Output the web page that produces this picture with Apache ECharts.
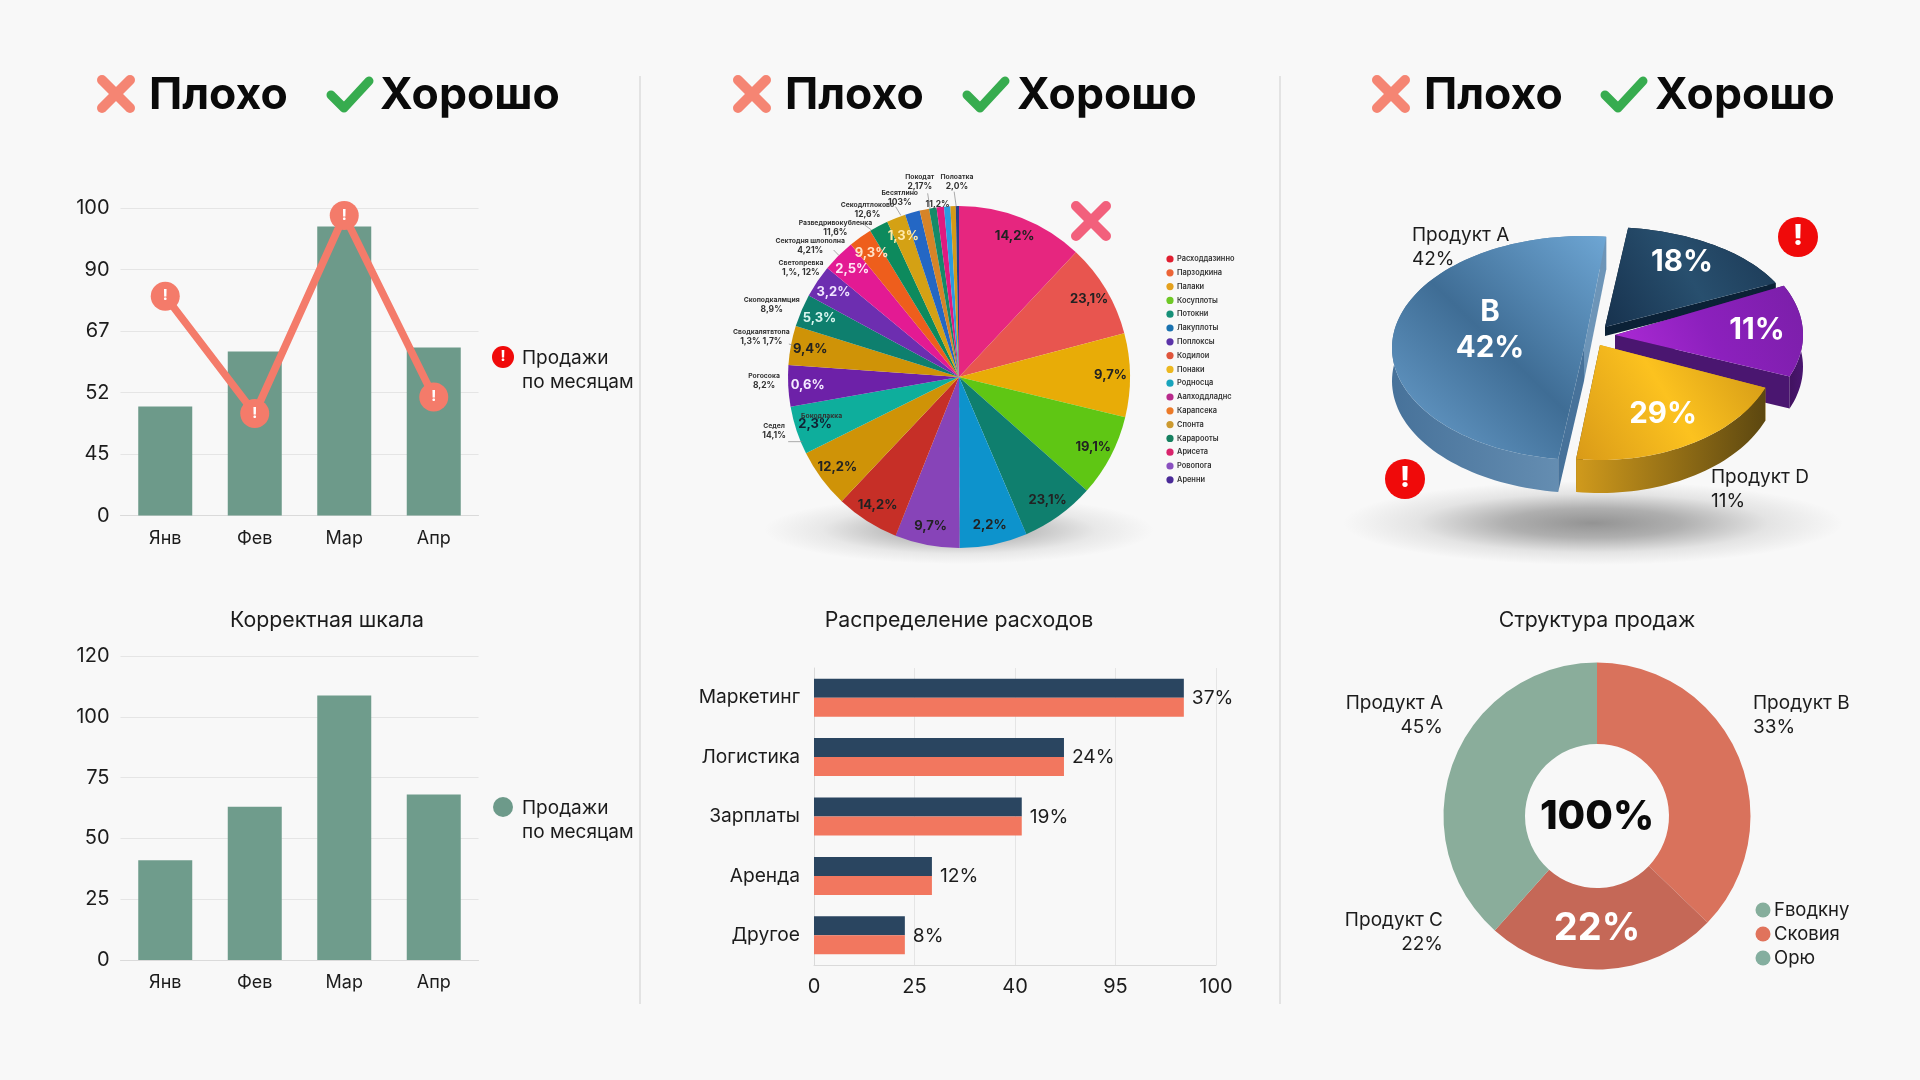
<!DOCTYPE html>
<html><head><meta charset="utf-8">
<script src="https://cdn.jsdelivr.net/npm/echarts@6/dist/echarts.min.js"></script>
<style>html,body{margin:0;padding:0;background:#f8f8f8}#c{width:1920px;height:1080px}</style>
</head><body><div id="c"></div>
<script>
const months = ['Янв','Фев','Мар','Апр'];
const badTicks = [0,45,52,67,90,100];
const badBars = [50.4,62,97,63];
const badLine = [80,49.6,98.8,51.5];
const goodTicks = [0,25,50,75,100,120];
const goodBars = [41,63,107,68];
const costCats = ['Маркетинг','Логистика','Зарплаты','Аренда','Другое'];
const costTicks = [0,25,40,95,100];
const costNavy = [98.4,66.8,43.7,27.6,22.6];
const costCoral = [98.4,66.8,43.7,27.6,22.6];
const costPct = ['37%','24%','19%','12%','8%'];
const bigShares = [12.0,8.9,7.9,7.8,7.0,6.4,6.1,6.0,5.6,4.6,3.9,3.7,3.1,3.1,3.1,2.2,1.8,1.8,1.4,0.9,0.7,0.7,0.6,0.5,0.3];
const bigLabels = ['14,2%','23,1%','9,7%','19,1%','23,1%','2,2%','9,7%','14,2%','12,2%','2,3%','0,6%','9,4%','5,3%','3,2%','2,5%','9,3%','1,1%','1,3%','','','','','','',''];
const bigColors = ['#e6267f','#e8554f','#e8ac07','#5fc614','#0f7f6e','#0d93cc','#8744b8','#c62f27','#cf9307','#0eae9c','#6d21a8','#cf9307','#0e7f6e','#6d2eb0','#e31a93','#ee5e1c','#0d8a5d','#d4a114','#2467c4','#d68428','#158a68','#e01a80','#2b9be0','#d69a18','#28408a'];
const bigLabelColors = ['#222','#222','#222','#222','#222','#222','#222','#222','#222','#123','#f4eaff','#222','#d8f5ef','#f0e4ff','#ffe6f4','#ffe2c8','#c8f5e0','#ffe9a8'];
const bigOuter = ['Покодат\n2,17%','Полоатка\n2,0%','Бесятлино\n103%','\n11,2%','Секодлтлоково\n12,6%','Разведривокубленка\n11,6%','Сектодня шлополна\n4,21%','Светопревка\n1,%, 12%','Скоподкалмция\n8,9%','Сводкалятвтопа\n1,3% 1,7%','Рогосока\n8,2%','Седел\n14,1%','Бокодлакка\n'];
const bigLegend = ['Расходдазинно','Парзодкина','Палаки','Косуплоты','Потокни','Лакуплоты','Поплоксы','Кодилои','Понаки','Родносца','Аалходдладнс','Карапсека','Спонта','Карарооты','Арисета','Ровопога','Аренни'];
const bigLegendColors = ['#e01f30','#ec6436','#e4a11e','#6fc826','#169078','#1a72b0','#5b33a8','#e0553c','#ecb820','#18a4bc','#b82a8c','#ec7a28','#cc9a30','#168060','#d9246c','#8a50c0','#4a2a98'];
const solidShares = [15.8,13.3,21.1,49.7];
const solidLabels = ['18%','11%','29%','B\n42%'];
const donutShares = [37.2,24.4,38.4];
const donutNames = ['Продукт B','Продукт C','Продукт A'];
const donutLegend = ['Fводкну','Сковия','Орю'];

const FONT = 'Inter, Roboto, sans-serif';
const INK = '#1c1c1c';
const GRID = '#e5e5e5';
const SAGE = '#6d9a8a';
const CORAL = '#f47b6a';
const NAVY = '#2a4560';

// ticks are evenly spaced on the axis whatever their printed value
function onTicks(ticks, v) {
  for (let i = 0; i < ticks.length - 1; i++) {
    if (v <= ticks[i + 1]) return i + (v - ticks[i]) / (ticks[i + 1] - ticks[i]);
  }
  return ticks.length - 1;
}

const el = [];
function txt(x, y, text, size, o) {
  o = o || {};
  el.push({type:'text', z:o.z || 20, silent:true, style:{x, y, text, fontFamily:FONT, fontSize:size, fontWeight:o.w || 400, fill:o.c || INK, align:o.a || 'left', verticalAlign:'middle', lineHeight:o.lh || Math.round(size * 1.25)}});
}
function badge(x, y, r, fill, fs) {
  el.push({type:'circle', z:20, silent:true, shape:{cx:x, cy:y, r}, style:{fill}});
  if (fs) txt(x, y, '!', fs, {a:'center', w:800, c:'#fff', z:21});
}
function cross(cx, cy, s, w, color) {
  [[-s,-s,s,s],[-s,s,s,-s]].forEach(p => el.push({type:'line', z:20, silent:true, shape:{x1:cx+p[0], y1:cy+p[1], x2:cx+p[2], y2:cy+p[3]}, style:{stroke:color, lineWidth:w, lineCap:'round'}}));
}
function check(x, y) {
  el.push({type:'polyline', z:20, silent:true, shape:{points:[[x,y+17],[x+13,y+30],[x+38,y+3]]}, style:{stroke:'#37ac4f', fill:'none', lineWidth:9, lineCap:'round', lineJoin:'round'}});
}
function glow(cx, cy, rx, ry, rgb, a) {
  const rgba = k => 'rgba(' + rgb + ',' + k + ')';
  el.push({type:'circle', z:0, silent:true, x:cx, y:cy, scaleX:rx/100, scaleY:ry/100, shape:{cx:0, cy:0, r:100},
    style:{fill:new echarts.graphic.RadialGradient(0.5,0.5,0.5,[{offset:0,color:rgba(a)},{offset:0.35,color:rgba(a*0.72)},{offset:0.7,color:rgba(a*0.2)},{offset:1,color:rgba(0)}])}});
}

[[640],[1280]].forEach(a => el.push({type:'line', z:1, silent:true, shape:{x1:a[0], y1:76, x2:a[0], y2:1004}, style:{stroke:'#dcdcdc', lineWidth:1.5}}));
[[116,149,331,380],[752,785,967,1017],[1391,1424,1605,1655]].forEach(h => {
  cross(h[0], 94, 14, 10, '#f58573');
  txt(h[1], 96, 'Плохо', 44.5, {w:700, c:'#0a0a0a'});
  check(h[2], 78);
  txt(h[3], 96, 'Хорошо', 44.5, {w:700, c:'#0a0a0a'});
});

// left legends and titles
badge(503, 357, 11, '#f00a0a', 14);
txt(522, 358, 'Продажи', 19); txt(522, 382, 'по месяцам', 19);
badge(503, 807, 10, SAGE);
txt(522, 808, 'Продажи', 19); txt(522, 832, 'по месяцам', 19);
txt(327, 621, 'Корректная шкала', 21.3, {a:'center'});
txt(959, 621, 'Распределение расходов', 21.3, {a:'center'});
txt(1597, 621, 'Структура продаж', 21.3, {a:'center'});

// many-slice pie decorations
glow(959, 530, 195, 34, '90,90,90', 0.5);
cross(1091, 221, 15, 10, '#f2607c');
const outerPos = [[580,95],[688,95],[522,143],[632,147],[428,177],[335,232],[262,285],[235,352],[150,462],[120,558],[128,690],[157,840],[295,810]];
bigOuter.forEach((t,i) => {
  const p = t.split('\n'), x = 720 + outerPos[i][0] / 2.904, y = 150 + outerPos[i][1] / 3;
  if (p[0]) txt(x, y - 4.5, p[0], 6.8, {a:'center', w:700, c:'#333', lh:9});
  if (p[1]) txt(x, y + 5, p[1], 8.5, {a:'center', w:700, c:'#333', lh:10});
});
[[200,582,212,586],[198,875,240,875],[330,300,345,316],[420,225,440,240],[510,170,525,196],[603,130,610,176],[680,125,686,170]].forEach(l => el.push({type:'line', z:4, silent:true, shape:{x1:720+l[0]/2.904, y1:150+l[1]/3, x2:720+l[2]/2.904, y2:150+l[3]/3}, style:{stroke:'#888', lineWidth:0.7}}));
bigLegend.forEach((t,i) => {
  const y = 259 + i * 13.8;
  el.push({type:'circle', z:20, silent:true, shape:{cx:1170, cy:y, r:3.6}, style:{fill:bigLegendColors[i]}});
  txt(1177, y, t, 7.4, {w:600, c:'#333'});
});

// solid pie texts
glow(1593, 523, 250, 42, '85,85,85', 0.62);
txt(1412, 235, 'Продукт А', 19); txt(1412, 259, '42%', 19);
txt(1711, 477, 'Продукт D', 19); txt(1711, 501, '11%', 19);
badge(1798, 237, 20, '#f00a0a', 28);
badge(1405, 479, 20, '#f00a0a', 28);
[[1682,262],[1757,330],[1663,414],[1490,330]].forEach((p,i) => txt(p[0], p[1], solidLabels[i], 29.5, {a:'center', w:700, c:'#fff', lh:36, z:30}));

// donut texts
txt(1443, 703, 'Продукт А', 19, {a:'right'}); txt(1443, 727, '45%', 19, {a:'right'});
txt(1753, 703, 'Продукт В', 19); txt(1753, 727, '33%', 19);
txt(1443, 920, 'Продукт С', 19, {a:'right'}); txt(1443, 944, '22%', 19, {a:'right'});
txt(1597, 817, '100%', 40, {a:'center', w:800, c:'#0a0a0a'});
txt(1597, 929, '22%', 38, {a:'center', w:700, c:'#fff'});
['#86ae9c','#e0735c','#84ae9f'].forEach((c,i) => {
  const y = 910 + i * 24;
  el.push({type:'circle', z:20, silent:true, shape:{cx:1763, cy:y, r:7.5}, style:{fill:c}});
  txt(1774, y, donutLegend[i], 18.5);
});

// extruded pie, drawn as a custom series from solidShares
const solidGeom = [
  {c:[1605,327], rx:190, ry:100, d:9,  top:['#17324e','#284f6e','#1b3854'], side:['#081a2c','#0b2136']},
  {c:[1615,335], rx:188, ry:112, d:32, top:['#b02bd8','#8c20bd','#7a1fa8'], side:['#3d1059','#4a1670']},
  {c:[1600,345], rx:178, ry:115, d:33, top:['#d99a18','#fcc21f','#cf9616'], side:['#d09a1c','#5c4710']},
  {c:[1584,348], rx:192, ry:112, d:33, top:['#6ca2d0','#3f6d95','#6ea6d4'], side:['#47729a','#6d95b8']}
];
function lin(x0,y0,x1,y1,cols){
  return new echarts.graphic.LinearGradient(x0,y0,x1,y1,cols.map((color,i)=>({offset:i/(cols.length-1),color})));
}
function renderSolid(params, api) {
  const i = params.dataIndex, g = solidGeom[i];
  let a0 = 7;
  for (let k = 0; k < i; k++) a0 += solidShares[k] * 3.6;
  const a1 = a0 + api.value(1) * 3.6;
  const arc = [];
  for (let t = a0; t <= a1 + 0.01; t += 2) {
    const r = t * Math.PI / 180;
    arc.push([g.c[0] + g.rx * Math.sin(r), g.c[1] - g.ry * Math.cos(r)]);
  }
  const r1 = a1 * Math.PI / 180;
  arc.push([g.c[0] + g.rx * Math.sin(r1), g.c[1] - g.ry * Math.cos(r1)]);
  const down = p => [p[0], p[1] + g.d];
  const sideFill = lin(0,0,1,0,g.side);
  const first = arc[0], last = arc[arc.length-1];
  const kids = [];
  kids.push({type:'polygon', shape:{points:[g.c, first, down(first), down(g.c)]}, style:{fill:g.side[0]}});
  kids.push({type:'polygon', shape:{points:[g.c, last, down(last), down(g.c)]}, style:{fill:g.side[1]}});
  kids.push({type:'polygon', shape:{points:arc.concat(arc.slice().reverse().map(down))}, style:{fill:sideFill}});
  kids.push({type:'polygon', shape:{points:[g.c].concat(arc)}, style:{fill:lin(0,1,1,0,g.top)}});
  return {type:'group', children:kids};
}

const chart = echarts.init(document.getElementById('c'), null, {renderer:'canvas'});
const tickStyle = {color:INK, fontSize:20, fontFamily:FONT};
const vAxis = (idx, ticks) => ({type:'value', gridIndex:idx, min:0, max:ticks.length-1, interval:1,
  axisLine:{show:false}, axisTick:{show:false}, splitLine:{lineStyle:{color:GRID}},
  axisLabel:Object.assign({margin:11, formatter:v => ticks[v]}, tickStyle)});
const cAxis = (idx, data) => ({type:'category', gridIndex:idx, data, axisTick:{show:false},
  axisLine:{lineStyle:{color:'#dadada'}}, axisLabel:Object.assign({margin:14}, tickStyle, {fontSize:18})});
chart.setOption({
  animation:false,
  backgroundColor:'#f8f8f8',
  grid:[
    {left:120.5, top:208, width:358, height:307.5},
    {left:120.5, top:656, width:358, height:304},
    {left:814, top:668, width:402, height:297}
  ],
  xAxis:[cAxis(0,months), cAxis(1,months),
    {type:'value', gridIndex:2, min:0, max:costTicks.length-1, interval:1,
     axisLine:{show:true, lineStyle:{color:'#dadada'}}, axisTick:{show:false}, splitLine:{lineStyle:{color:GRID}},
     axisLabel:Object.assign({margin:12, formatter:v => costTicks[v]}, tickStyle)}],
  yAxis:[vAxis(0,badTicks), vAxis(1,goodTicks),
    {type:'category', gridIndex:2, data:costCats, inverse:true, axisTick:{show:false},
     axisLine:{lineStyle:{color:'#dadada'}}, axisLabel:Object.assign({margin:14}, tickStyle, {fontSize:19.2})}],
  graphic:{elements:el},
  series:[
    {type:'bar', xAxisIndex:0, yAxisIndex:0, barWidth:54, z:3, itemStyle:{color:SAGE}, data:badBars.map(v => onTicks(badTicks,v))},
    {type:'line', xAxisIndex:0, yAxisIndex:0, z:4, symbol:'circle', symbolSize:29,
     lineStyle:{color:CORAL, width:7.5}, itemStyle:{color:CORAL},
     label:{show:true, position:'inside', formatter:'!', color:'#fff', fontWeight:800, fontSize:14, fontFamily:FONT},
     data:badLine.map(v => onTicks(badTicks,v))},
    {type:'bar', xAxisIndex:1, yAxisIndex:1, barWidth:54, z:3, itemStyle:{color:'#6f9c8c'}, data:goodBars.map(v => onTicks(goodTicks,v))},
    {type:'bar', xAxisIndex:2, yAxisIndex:2, barWidth:19, barGap:0, z:3, itemStyle:{color:NAVY},
     label:{show:true, position:'right', distance:8, offset:[0,10], color:INK, fontSize:19.2, fontFamily:FONT, formatter:p => costPct[p.dataIndex]},
     data:costNavy.map(v => onTicks(costTicks,v))},
    {type:'bar', xAxisIndex:2, yAxisIndex:2, barWidth:19, barGap:0, z:3, itemStyle:{color:'#f2775f'},
     data:costCoral.map(v => onTicks(costTicks,v))},
    {type:'pie', center:[959,377], radius:[0,171], startAngle:90, clockwise:true, z:3, silent:true,
     label:{show:false}, labelLine:{show:false}, itemStyle:{borderWidth:0},
     data:bigShares.map((value,i) => ({value, name:'s'+i, itemStyle:{color:bigColors[i]}}))},
    {type:'pie', center:[959,377], radius:[126,171], startAngle:90, clockwise:true, z:4, silent:true,
     avoidLabelOverlap:false, minShowLabelAngle:0, labelLine:{show:false}, itemStyle:{color:'rgba(0,0,0,0)'},
     data:bigShares.map((value,i) => ({value, name:bigLabels[i],
       label:{show:!!bigLabels[i], position:'inside', rotate:0, formatter:'{b}', color:bigLabelColors[i], fontSize:13, fontWeight:700, fontFamily:FONT}}))},
    {type:'custom', coordinateSystem:'none', z:5, silent:true, renderItem:renderSolid,
     data:solidShares.map((v,i) => [i,v])},
    {type:'pie', center:[1597,816], radius:[72,153.5], startAngle:90, clockwise:true, z:3, silent:true,
     label:{show:false}, labelLine:{show:false},
     data:donutShares.map((value,i) => ({value, name:donutNames[i], itemStyle:{color:['#d9725c','#c56857','#8aad9b'][i]}}))}
  ]
});
</script></body></html>
